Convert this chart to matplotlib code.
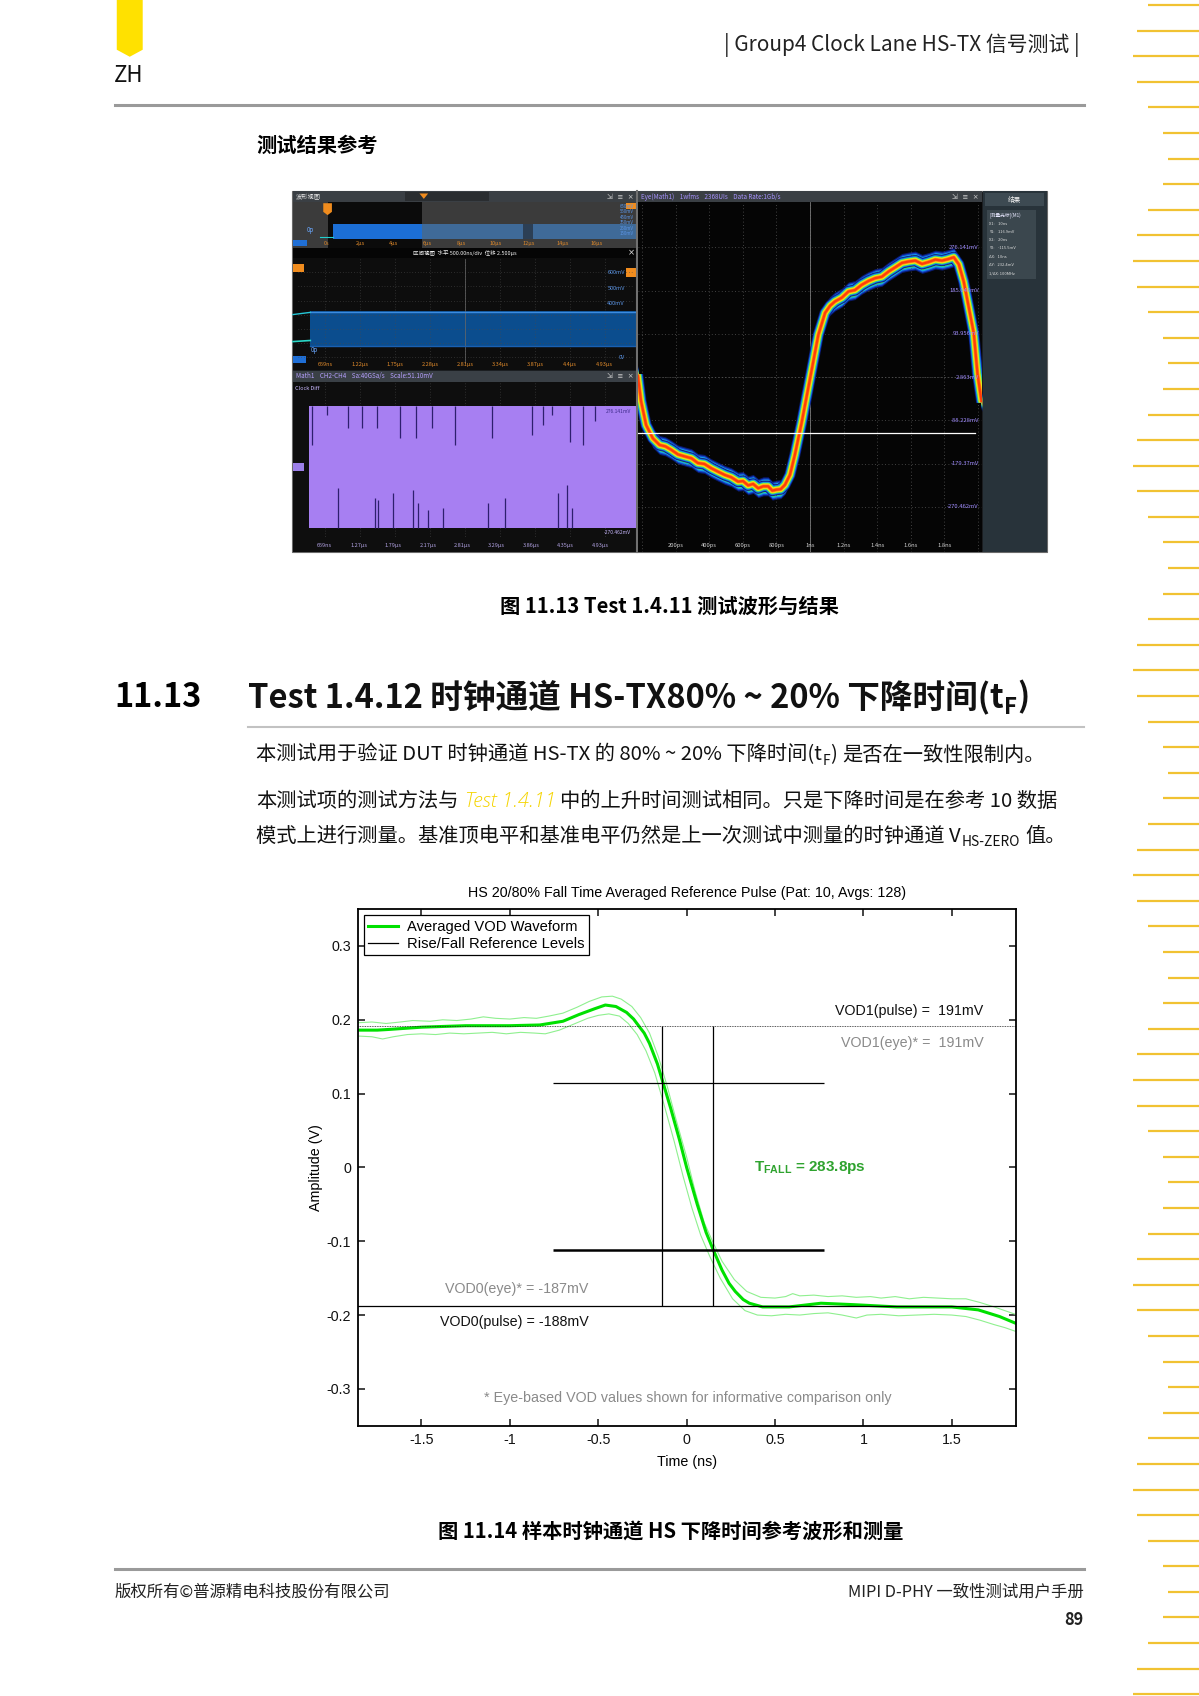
import numpy as np
import matplotlib
matplotlib.use('Agg')
from matplotlib import pyplot as plt
from matplotlib.patches import Rectangle, Polygon

plt.rcParams['font.family'] = ['Noto Sans CJK SC', 'DejaVu Sans']
plt.rcParams['axes.unicode_minus'] = False
plt.rcParams['mathtext.fontset'] = 'custom'
plt.rcParams['mathtext.rm'] = 'Liberation Sans'
plt.rcParams['mathtext.bf'] = 'Liberation Sans:bold'
ARIAL = 'Liberation Sans'

# ---------------- fall time plot data (time in ns, amplitude in V) ----------------
t_avg = [-1.86, -1.75, -1.68, -1.5, -1.25, -1.0, -0.83, -0.7, -0.61, -0.52, -0.46,
         -0.4, -0.34, -0.3, -0.275, -0.24, -0.21, -0.165, -0.135, -0.09, -0.04, 0.0,
         0.06, 0.11, 0.153, 0.2, 0.24, 0.275, 0.32, 0.355, 0.43, 0.58, 0.76, 0.95,
         1.19, 1.5, 1.65, 1.77, 1.86]
v_avg = [0.186, 0.186, 0.187, 0.19, 0.192, 0.192, 0.193, 0.198, 0.207, 0.215, 0.22,
         0.218, 0.21, 0.201, 0.193, 0.182, 0.168, 0.14, 0.116, 0.08, 0.037, 0.0,
         -0.05, -0.088, -0.113, -0.139, -0.157, -0.168, -0.179, -0.184, -0.189, -0.189,
         -0.184, -0.186, -0.189, -0.189, -0.193, -0.202, -0.211]

t_hi = [-1.86, -1.78, -1.7, -1.62, -1.55, -1.45, -1.38, -1.3, -1.22, -1.15, -1.08, -1.0,
        -0.92, -0.85, -0.78, -0.7, -0.62, -0.55, -0.48, -0.42, -0.37, -0.31, -0.26,
        -0.21, -0.16, -0.11, -0.06, 0.0, 0.05, 0.1, 0.15, 0.2, 0.27, 0.34, 0.42, 0.5,
        0.56, 0.6, 0.64, 0.72, 0.8, 0.88, 0.96, 1.04, 1.1, 1.18, 1.26, 1.34, 1.42, 1.5,
        1.58, 1.66, 1.74, 1.8, 1.86]
v_hi = [0.196, 0.197, 0.195, 0.197, 0.199, 0.198, 0.2, 0.199, 0.201, 0.204, 0.202, 0.201,
        0.203, 0.202, 0.205, 0.209, 0.217, 0.225, 0.231, 0.232, 0.228, 0.218, 0.203,
        0.182, 0.15, 0.11, 0.065, 0.014, -0.034, -0.075, -0.102, -0.127, -0.152, -0.168,
        -0.176, -0.177, -0.175, -0.171, -0.174, -0.173, -0.175, -0.174, -0.176, -0.175,
        -0.177, -0.175, -0.178, -0.176, -0.177, -0.178, -0.178, -0.183, -0.189, -0.194,
        -0.199]

t_lo = [-1.86, -1.78, -1.72, -1.66, -1.58, -1.5, -1.42, -1.34, -1.26, -1.18, -1.1, -1.02,
        -0.94, -0.86, -0.8, -0.72, -0.64, -0.56, -0.5, -0.44, -0.38, -0.33, -0.28, -0.23,
        -0.18, -0.13, -0.07, -0.02, 0.03, 0.08, 0.13, 0.19, 0.26, 0.33, 0.4, 0.48, 0.56,
        0.64, 0.72, 0.8, 0.88, 0.96, 1.02, 1.1, 1.2, 1.3, 1.4, 1.5, 1.58, 1.66, 1.74, 1.8,
        1.86]
v_lo = [0.178, 0.177, 0.174, 0.177, 0.18, 0.181, 0.18, 0.182, 0.181, 0.182, 0.183, 0.181,
        0.183, 0.182, 0.181, 0.186, 0.194, 0.202, 0.206, 0.208, 0.205, 0.195, 0.18, 0.158,
        0.128, 0.087, 0.035, -0.012, -0.055, -0.092, -0.12, -0.15, -0.178, -0.194, -0.2,
        -0.201, -0.199, -0.2, -0.198, -0.197, -0.2, -0.204, -0.2, -0.199, -0.201, -0.2,
        -0.199, -0.2, -0.202, -0.207, -0.213, -0.217, -0.222]

vod1_pulse = 0.191
vod0_pulse = -0.188
level80 = 0.115
level20 = -0.112
t80 = -0.139
t20 = 0.147
level_span = (-0.758, 0.776)

x_ticks = [-1.5, -1, -0.5, 0, 0.5, 1, 1.5]
x_labels = ['-1.5', '-1', '-0.5', '0', '0.5', '1', '1.5']
y_ticks = [-0.3, -0.2, -0.1, 0, 0.1, 0.2, 0.3]
y_labels = ['-0.3', '-0.2', '-0.1', '0', '0.1', '0.2', '0.3']

# ---------------- scope screenshot data ----------------
# eye diagram centre trace (ps, mV)
eye_t = [-25, -5, 25, 65, 105, 140, 174, 215, 254, 295, 333, 372, 413, 452, 493, 532,
         572, 602, 632, 662, 692, 722, 751, 776, 801, 826, 851, 881, 910, 950, 990, 1020,
         1050, 1090, 1120, 1149, 1190, 1229, 1268, 1308, 1348, 1388, 1428, 1468, 1508,
         1547, 1587, 1627, 1667, 1706, 1746, 1786, 1821, 1856, 1886, 1915, 1945, 1975,
         1997, 2022]
eye_mv = [8, -48, -98, -126, -140, -143, -150, -160, -164, -168, -178, -180, -189, -196,
          -203, -208, -217, -216, -225, -222, -231, -227, -227, -236, -234, -233, -224,
          -203, -161, -94, -20, 36, 92, 138, 153, 162, 170, 183, 186, 197, 205, 211, 214,
          225, 234, 243, 246, 248, 241, 245, 250, 248, 251, 255, 240, 204, 150, 95, 10, -50]
eye_levels = [276.141, 185.048, 93.956, 2.863, -88.228, -179.37, -270.462]
eye_level_labels = ['276.141mV', '185.048mV', '93.956mV', '2.863mV', '-88.228mV',
                    '-179.37mV', '-270.462mV']
eye_times = [200, 400, 600, 800, 1000, 1200, 1400, 1600, 1800]
eye_time_labels = ['200ps', '400ps', '600ps', '800ps', '1ns', '1.2ns', '1.4ns', '1.6ns',
                   '1.8ns']
eye_cursor_mv = -115.5

# Math1 (clock differential) trace: level edges (mV) and glitch spikes (µs, mV)
math_hi, math_lo = 276.141, -270.462
math_start = 0.477
spike_top_t = [0.512, 0.747, 1.084, 1.294, 1.537, 1.891, 2.141, 2.386, 2.751, 3.323,
               3.947, 4.130, 4.259, 4.547, 4.754, 4.936]
spike_top_v = [102, 237, 178, 178, 178, 132, 132, 178, 102, 132, 147, 190, 237, 117,
               102, 208]
spike_bot_t = [0.929, 1.501, 1.554, 1.778, 2.099, 2.178, 2.333, 2.568, 3.27, 3.532,
               4.349, 4.494, 4.573]
spike_bot_v = [-93, -138, -146, -116, -100, -161, -190, -183, -161, -138, -115, -79, -183]

zoom_labels = ['0s', '2µs', '4µs', '6µs', '8µs', '10µs', '12µs', '14µs', '16µs']
mid_labels = ['659ns', '1.22µs', '1.75µs', '2.28µs', '2.81µs', '3.34µs', '3.87µs',
              '4.4µs', '4.93µs']
math_labels = ['659ns', '1.27µs', '1.79µs', '2.17µs', '2.81µs', '3.29µs', '3.86µs',
               '4.35µs', '4.93µs']
result_rows = ['X1:    10ns', 'Y1:    116.9mV', 'X2:    20ns', 'Y2:    -115.5mV',
               'ΔX:   10ns', 'ΔY:   232.4mV', '1/ΔX: 100MHz']

# ---------------- page ----------------
W, H = 1109, 1569          # page units (figure is 1199 x 1696 px)
K = 1199 / W

fig = plt.figure(figsize=(11.99, 16.96), dpi=100)
page = fig.add_axes([0, 0, 1, 1])
page.set_xlim(0, W)
page.set_ylim(H, 0)
page.axis('off')
renderer = fig.canvas.get_renderer()
inv = page.transData.inverted()


def axes_at(x0, y0, x1, y1):
    return fig.add_axes([x0 / W, 1 - y1 / H, (x1 - x0) / W, (y1 - y0) / H])


def rect(x0, y0, x1, y1, fc, ec='none', lw=0, z=1):
    page.add_patch(Rectangle((x0, y0), x1 - x0, y1 - y0, fc=fc, ec=ec, lw=lw, zorder=z))


def em(size):
    return size / 0.72 / K


def base(center, size):
    return center + 0.37 * em(size)


def put_runs(x, yc, parts, size, weight='normal', color='#111111'):
    y = base(yc, size)
    for text, kind, gap in parts:
        x += gap * em(size)
        kw = dict(fontsize=size, fontweight=weight, color=color, va='baseline', ha='left')
        yy = y
        if kind == 'sub':
            kw['fontsize'] = size * 0.68
            yy = y + 0.22 * em(size)
        elif kind == 'it':
            kw.update(family=['Open Sans', 'DejaVu Sans'], style='italic', color='#f5d400',
                      fontweight='light')
        t = page.text(x, yy, text, **kw)
        bb = t.get_window_extent(renderer)
        x = inv.transform((bb.x1, bb.y0))[0]


BODY = 14.6

# yellow tab + ZH
page.add_patch(Polygon([(108, 0), (132, 0), (132, 46), (120, 52.5), (108, 46)],
                       closed=True, fc='#ffe100', ec='none'))
page.text(105, base(68, 16), 'ZH', fontsize=16, va='baseline', color='#111111')
page.text(999, base(40, 15), '| Group4 Clock Lane HS-TX 信号测试 |', fontsize=15,
          ha='right', va='baseline', color='#222222')
page.plot([106, 1003], [97.5, 97.5], color='#9a9a9a', lw=2.2)

# right decorative ruler
ruler_x = [1075.8, 1062, 1051.8, 1048.1, 1051.8, 1062, 1075.8, 1080.5]
for i in range(67):
    yy = (5 + i * 25.6) / K
    page.plot([ruler_x[(i + 1) % 8], W], [yy, yy], color='#f1c232', lw=1.6,
              solid_capstyle='butt')

page.text(237, base(134, 14.6), '测试结果参考', fontsize=14.6, fontweight='bold',
          va='baseline')

# ---------------- scope screenshot ----------------
rect(270, 177, 968, 511, '#1b1e21', '#6a6a6a', 0.8)

# left column: title bar
rect(271, 177, 588, 187, '#3a3f44')
page.text(274, 182.5, '波形视图', color='#e6e6e6', fontsize=4.5, va='center')
rect(375, 178, 452, 186, '#2a2d30')
page.add_patch(Polygon([(388, 179), (396, 179), (392, 184)], fc='#f08c1e', ec='none'))
page.text(586, 182.5, '⇲  ≡  ×', color='#cfcfcf', fontsize=5, ha='right', va='center',
          family='DejaVu Sans')

# overview strip
rect(271, 187, 588, 229, '#3b3b3b')
rect(303, 187, 390, 229, '#0b0b0b')
rect(308, 207, 390, 221, '#1c6fd6')
rect(390, 207, 588, 221, '#3f6a98')
rect(484, 207, 493, 221, '#2c3f55')
page.add_patch(Polygon([(299, 188), (307, 188), (307, 196), (303, 199), (299, 196)],
                       fc='#f08c1e', ec='none'))
page.plot([296, 308], [219.5, 219.5], color='#22d0d0', lw=0.8)
page.text(284, 213, '0p', color='#6aa8ff', fontsize=4.5, va='center')
rect(271, 222, 284, 228, '#1f6fd6')
for i, lbl in enumerate(zoom_labels):
    page.text(302 + 31.2 * i, 225, lbl, color='#e08a2a', fontsize=4, ha='center',
              va='center')
for j, lbl in enumerate(['650mV', '550mV', '450mV', '350mV', '250mV', '150mV']):
    page.text(586, 191 + 5 * j, lbl, color='#5b95e6', fontsize=3.2, ha='right',
              va='center')
rect(579, 187.5, 588, 193.5, '#f08c1e')

# separator
rect(271, 229, 588, 239, '#050505')
page.text(430, 234, '区间视图  水平 500.00ns/div  位移 2.500µs', color='#f0f0f0',
          fontsize=4, ha='center', va='center')
page.text(584, 234, '×', color='#e0e0e0', fontsize=6, ha='center', va='center',
          family='DejaVu Sans')

# middle (zoomed) panel
rect(271, 239, 588, 342, '#0d0d0d')
for gx in np.arange(301, 588, 32.3):
    page.plot([gx, gx], [240, 336], color='#4a4a4a', lw=0.5, ls=(0, (1, 3)))
for gy in np.arange(252, 336, 13):
    page.plot([276, 586], [gy, gy], color='#4a4a4a', lw=0.5, ls=(0, (1, 3)))
page.plot([430, 430], [240, 336], color='#6a6a6a', lw=0.5)
rect(287, 288, 588, 321, '#0b4d8e')
page.plot([287, 588], [288.5, 288.5], color='#3b8be0', lw=1.0)
page.plot([287, 588], [320.5, 320.5], color='#1a5fb0', lw=1.0)
page.plot([271, 287], [291, 289], color='#25c8d8', lw=1.0)
page.plot([271, 287], [316, 315], color='#2ad8c8', lw=1.2)
page.text(287, 324, '0p', color='#6aa8ff', fontsize=4.5, va='center')
rect(271, 329, 283, 336, '#1f6fd6')
rect(271, 244, 281, 252, '#f08c1e')
for yy, lbl in [(252, '600mV'), (267, '500mV'), (281, '400mV'), (331, '0V')]:
    page.text(578, yy, lbl, color='#5b95e6', fontsize=4, ha='right', va='center')
rect(579, 248, 588, 256, '#f08c1e')
for i, lbl in enumerate(mid_labels):
    page.text(301 + 32.3 * i, 337.5, lbl, color='#e08a2a', fontsize=4, ha='center',
              va='center')

# Math1 title bar
rect(271, 343, 588, 353, '#3a4046')
page.text(274, 348, 'Math1    CH2-CH4    Sa:40GSa/s    Scale:51.10mV', color='#b6a0ff',
          fontsize=4.5, va='center')
page.text(586, 348, '⇲  ≡  ×', color='#cfcfcf', fontsize=5, ha='right', va='center',
          family='DejaVu Sans')

# Math1 panel
rect(271, 353, 588, 511, '#0e0e0e')
for gx in np.arange(301, 588, 32.3):
    page.plot([gx, gx], [354, 498], color='#4a4a4a', lw=0.5, ls=(0, (1, 3)))
page.text(273, 359, 'Clock Diff', color='#c9b8ff', fontsize=4, va='center')
rect(271, 428, 281, 436, '#9c7fe8')
pa = axes_at(271, 353, 588, 511)
pa.set_xlim(0.22, 5.57)
pa.set_ylim(-382, 388)
pa.axis('off')
pa.fill_between([math_start, 5.57], math_lo, math_hi, color='#a77ff2', lw=0)
pa.vlines(spike_top_t, spike_top_v, math_hi, color='#2e1f6e', lw=0.9)
pa.vlines(spike_bot_t, math_lo, spike_bot_v, color='#2e1f6e', lw=0.9)
pa.text(5.5, math_hi - 10, '276.141mV', color='#3d2a8a', fontsize=3.5, ha='right',
        va='top')
pa.text(5.5, math_lo - 10, '-270.462mV', color='#c9b8ff', fontsize=3.5, ha='right',
        va='top')
for i, lbl in enumerate(math_labels):
    page.text(300 + 31.9 * i, 505, lbl, color='#b0a0e0', fontsize=4, ha='center',
              va='center')

page.plot([589, 589], [177, 511], color='#707070', lw=1.5)

# eye panel
rect(590, 177, 908, 187, '#3a3f44')
page.text(593, 182.5, 'Eye(Math1)    1wfms    2368UIs    Data Rate:1Gb/s',
          color='#a893ff', fontsize=4.5, va='center')
page.text(905, 182.5, '⇲  ≡  ×', color='#cfcfcf', fontsize=5, ha='right', va='center',
          family='DejaVu Sans')
ea = axes_at(590, 187, 908, 511)
ea.set_facecolor('#050505')
ea.set_xlim(-24, 2022)
ea.set_ylim(-366, 371)
ea.set_xticks(range(0, 2001, 200))
ea.set_yticks(eye_levels)
ea.grid(True, color='#555555', lw=0.6, ls=(0, (1, 3)))
ea.tick_params(length=0, labelbottom=False, labelleft=False)
for s in ea.spines.values():
    s.set_visible(False)
ea.axvline(1000, color='#7a7a7a', lw=0.6)
ea.axhline(eye_levels[3], color='#555555', lw=0.5, ls=(0, (2, 3)))
eye_arr = np.array(eye_mv, dtype=float)
band = [('#0a1a6e', 20, 8.0), ('#1346d0', 17.5, 7.0), ('#17a0e8', 15, 6.0),
        ('#2fd87a', 12.5, 5.2), ('#b8ee20', 10.5, 4.4), ('#ffe21a', 8.5, 3.6),
        ('#ff8a10', 6, 2.7), ('#ff3b0a', 3.5, 1.6)]
for c, d, w in band:
    ea.fill_between(eye_t, eye_arr - d, eye_arr + d, color=c, lw=0)
    ea.plot(eye_t, eye_mv, color=c, lw=w, solid_joinstyle='round', solid_capstyle='butt')
ea.plot([-24, 1985], [eye_cursor_mv, eye_cursor_mv], color='white', lw=0.9)
for v, lbl in zip(eye_levels, eye_level_labels):
    ea.text(2005, v, lbl, color='#a08cff', fontsize=4.2, ha='right', va='center')
for tt, lbl in zip(eye_times, eye_time_labels):
    ea.text(tt, -352, lbl, color='#d0d0d0', fontsize=4.2, ha='center', va='center')

# results panel
rect(909, 177, 968, 511, '#28333a')
rect(911, 179, 966, 191, '#3d4a52')
page.text(938.5, 185, '结果', color='#f0f0f0', fontsize=4.8, ha='center', va='center')
rect(913, 194, 958, 258, '#3b474e')
page.text(915, 199.5, '[测量光标](M1)', color='#e8e8ff', fontsize=3.4, va='center')
for i, row in enumerate(result_rows):
    page.text(915, 207 + 7.6 * i, row, color='#dddddd', fontsize=2.9, va='center')

# caption + section heading + paragraphs
page.text(619, base(559.6, BODY), '图 11.13 Test 1.4.11 测试波形与结果', fontsize=BODY,
          fontweight='bold', ha='center', va='baseline')
page.text(106, base(643, 23.5), '11.13', fontsize=23.5, fontweight='bold', va='baseline')
put_runs(229, 643, [('Test 1.4.12 时钟通道 HS-TX80% ~ 20% 下降时间(t', 'n', 0),
                    ('F', 'sub', 0.02), (')', 'n', 0.02)], 23.5, weight='bold')
page.plot([229, 1003], [672.6, 672.6], color='#c2c2c2', lw=1.5)

put_runs(237, 696.7, [('本测试用于验证 DUT 时钟通道 HS-TX 的 80% ~ 20% 下降时间(t', 'n', 0),
                      ('F', 'sub', 0.02), (')', 'n', 0.02),
                      ('是否在一致性限制内。', 'n', 0.25)], BODY)
put_runs(237, 740, [('本测试项的测试方法与', 'n', 0), ('Test 1.4.11', 'it', 0.3),
                    ('中的上升时间测试相同。只是下降时间是在参考 10 数据', 'n', 0.2)], BODY)
put_runs(237, 772, [('模式上进行测量。基准顶电平和基准电平仍然是上一次测试中测量的时钟通道 V', 'n', 0),
                    ('HS-ZERO', 'sub', 0.03), ('值。', 'n', 0.25)], BODY)

# ---------------- fall time chart ----------------
FS = 10.3
ax = axes_at(331, 841, 940, 1319)
l_lo, = ax.plot(t_lo, v_lo, color='#8ff08f', lw=0.8)
l_hi, = ax.plot(t_hi, v_hi, color='#8ff08f', lw=0.8)
l_avg, = ax.plot(t_avg, v_avg, color='#00e000', lw=2.2)
ax.axhline(vod1_pulse, color='#222222', lw=0.6, ls=(0, (1, 1)))
l_ref = ax.axhline(vod0_pulse, color='black', lw=0.9)
ax.vlines([t80, t20], vod0_pulse, vod1_pulse, color='black', lw=0.9)
ax.hlines(level80, *level_span, color='black', lw=0.9)
ax.hlines(level20, *level_span, color='black', lw=1.8)

ax.set_xlim(-1.86, 1.865)
ax.set_ylim(-0.35, 0.35)
ax.set_xticks(x_ticks)
ax.set_xticklabels(x_labels)
ax.set_yticks(y_ticks)
ax.set_yticklabels(y_labels)
ax.tick_params(direction='in', length=5, width=1.1, top=True, right=True, labelsize=FS,
               labelfontfamily=ARIAL, pad=5, colors='#111111')
for s in ax.spines.values():
    s.set_linewidth(1.3)

ax.text(0.5, 1.032, 'HS 20/80% Fall Time Averaged Reference Pulse (Pat: 10, Avgs: 128)',
        transform=ax.transAxes, ha='center', va='center', fontsize=FS, family=ARIAL)
ax.text(-0.064, 0.5, 'Amplitude (V)', transform=ax.transAxes, rotation=90, ha='center',
        va='center', fontsize=FS, family=ARIAL)
ax.text(0.5, -0.07, 'Time (ns)', transform=ax.transAxes, ha='center', va='center',
        fontsize=FS, family=ARIAL)

ax.text(1.68, 0.212, 'VOD1(pulse) =  191mV', ha='right', va='center', fontsize=FS,
        family=ARIAL, color='#111111')
ax.text(1.68, 0.168, 'VOD1(eye)* =  191mV', ha='right', va='center', fontsize=FS,
        family=ARIAL, color='#8a8a8a')
ax.text(-0.556, -0.165, 'VOD0(eye)* = -187mV', ha='right', va='center', fontsize=FS,
        family=ARIAL, color='#8a8a8a')
ax.text(-0.556, -0.209, 'VOD0(pulse) = -188mV', ha='right', va='center', fontsize=FS,
        family=ARIAL, color='#111111')
ax.text(0.379, 0.0, r'$\mathbf{T_{FALL}}$ = 283.8ps', ha='left', va='center',
        fontsize=11, fontweight='bold', family=ARIAL, color='#2fa32f')
ax.text(0.006, -0.312, '* Eye-based VOD values shown for informative comparison only',
        ha='center', va='center', fontsize=FS, family=ARIAL, color='#8a8a8a')

leg = ax.legend([l_avg, l_ref], ['Averaged VOD Waveform', 'Rise/Fall Reference Levels'],
                loc='upper left', fancybox=False, framealpha=1, edgecolor='black',
                prop={'family': ARIAL, 'size': 10.6}, borderaxespad=0.42,
                handlelength=2.0, labelspacing=0.22, borderpad=0.3, handletextpad=0.6)
leg.get_frame().set_linewidth(0.9)

# ---------------- caption and footer ----------------
page.text(620, base(1416, BODY), '图 11.14 样本时钟通道 HS 下降时间参考波形和测量',
          fontsize=BODY, fontweight='bold', ha='center', va='baseline')
page.plot([106, 1003], [1451.5, 1451.5], color='#9a9a9a', lw=2.2)
page.text(106, base(1471, 11.8), '版权所有©普源精电科技股份有限公司', fontsize=11.8,
          va='baseline', color='#222222')
page.text(1002, base(1471, 11.8), 'MIPI D-PHY 一致性测试用户手册', fontsize=11.8,
          ha='right', va='baseline', color='#222222')
page.text(1002, base(1498, 11.8), '89', fontsize=11.8, fontweight='bold', ha='right',
          va='baseline', color='#222222')

fig.savefig('out.png', dpi=100)
